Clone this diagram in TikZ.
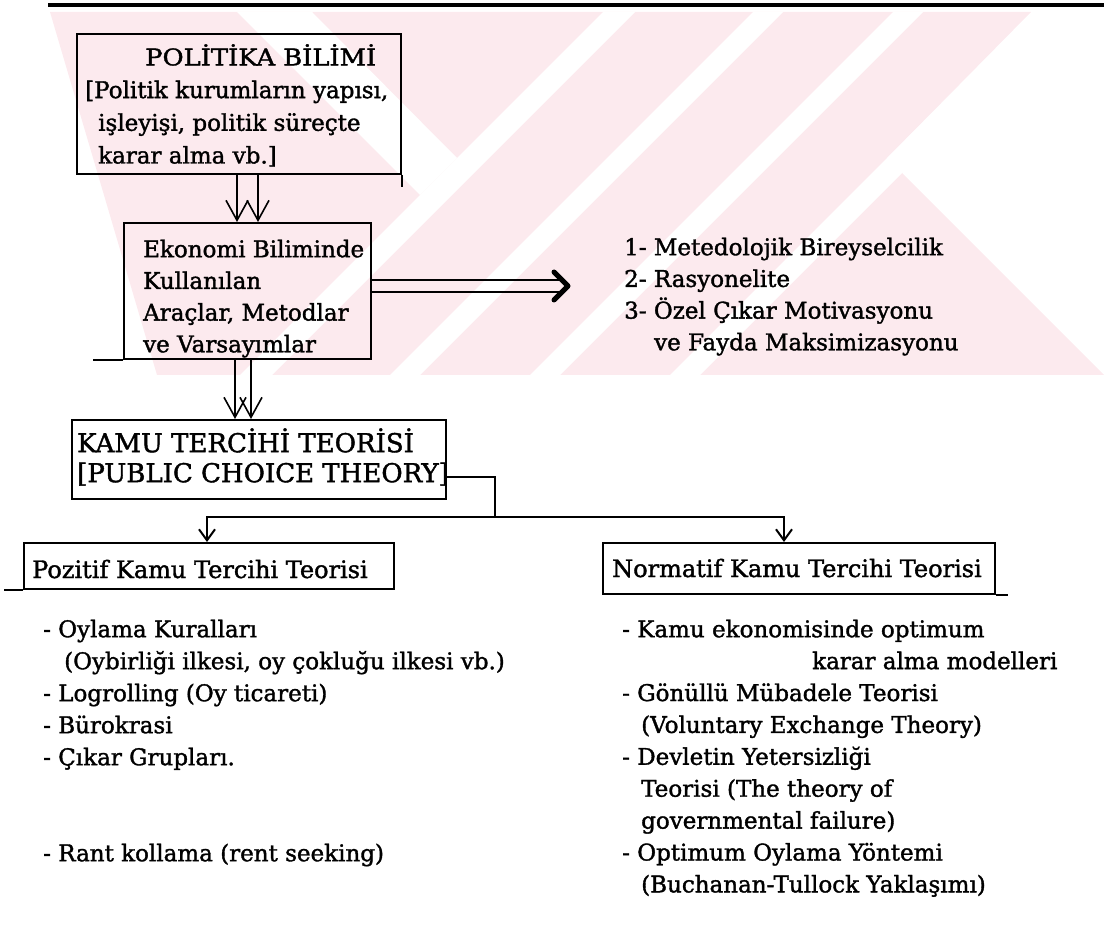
\documentclass[tikz,border=0pt]{standalone}
\usepackage{fontspec}
\usepackage{graphicx}
\setmainfont{DejaVu Serif}[FakeBold=1.5]
\usetikzlibrary{arrows.meta}
\definecolor{wm}{RGB}{252,234,238}
\newcommand{\firstln}{\rule{0pt}{20pt}}
\begin{document}
\begin{tikzpicture}[x=1pt,y=-1pt,
  box/.style={draw=black, line width=1.8pt, inner sep=0pt, anchor=north west},
  txt/.style={inner sep=0pt, anchor=north west, align=left, font=\fontsize{23}{32}\selectfont},
  one/.style={inner sep=0pt, anchor=base west, font=\fontsize{24}{30}\selectfont},
  conn/.style={line width=1.6pt},
  dar/.style={conn, -{Straight Barb[length=20pt,width=22pt]}},
  sar/.style={conn, -{Straight Barb[length=11pt,width=16pt,line width=2pt]}}
]
\useasboundingbox (0,0) rectangle (1104,941);
% watermark
\fill[wm] (50,12) -- (1031,12) -- (887,158) -- (1104,375) -- (157,375) -- cycle;
\begin{scope}
  \clip (0,12) rectangle (1104,375);
  \fill[white] (603,12) -- (635,12) -- (272,375) -- (240,375) -- cycle;
  \fill[white] (753,12) -- (783,12) -- (420,375) -- (390,375) -- cycle;
  \fill[white] (893,12) -- (923,12) -- (560,375) -- (530,375) -- cycle;
  \fill[white] (1033,12) -- (1063,12) -- (700,375) -- (670,375) -- cycle;
  \fill[white] (237,12) -- (312,12) -- (457,158) -- (420,195) -- cycle;
\end{scope}
% top rule
\draw[line width=3.5pt] (48,5) -- (1104,5);

% boxes
\node[box, minimum width=324pt, minimum height=140pt] (pb) at (76,33) {};
\node[box, minimum width=247pt, minimum height=136pt, rounded corners=0pt] (eb) at (123,222) {};
\node[box, minimum width=374pt, minimum height=79pt] (kt) at (71,419) {};
\node[box, minimum width=370pt, minimum height=46pt] (pz) at (23,542) {};
\node[box, minimum width=392pt, minimum height=51pt] (nm) at (602,542) {};

% box texts
\node[txt, font=\fontsize{23}{32.7}\selectfont] (pbt) at (85,44) {\firstln\hspace*{60pt}\scalebox{1.12}[1]{POLİTİKA BİLİMİ}\\{[}Politik kurumların yapısı,\\\hspace*{13pt}işleyişi, politik süreçte\\\hspace*{13pt}karar alma vb.{]}};
\node[txt, font=\fontsize{23}{31.7}\selectfont] (ebt) at (143,237) {\firstln Ekonomi Biliminde\\Kullanılan\\Araçlar, Metodlar\\ve Varsayımlar};
\node[txt, font=\fontsize{23}{31.7}\selectfont] (lst) at (624,235) {\firstln 1- Metedolojik Bireyselcilik\\2- Rasyonelite\\3- Özel Çıkar Motivasyonu\\\hspace*{30pt}ve Fayda Maksimizasyonu};
\node[txt, font=\fontsize{26}{30}\selectfont] (ktt) at (77,428) {\rule{0pt}{24pt}KAMU TERCİHİ TEORİSİ\\{[}PUBLIC CHOICE THEORY{]}};
\node[one] (pzt) at (32,578) {Pozitif Kamu Tercihi Teorisi};
\node[one] (nmt) at (612,577) {Normatif Kamu Tercihi Teorisi};

% lists
\node[txt] (pl) at (43,617) {\firstln - Oylama Kuralları\\\hspace*{21pt}(Oybirliği ilkesi, oy çokluğu ilkesi vb.)\\- Logrolling (Oy ticareti)\\- Bürokrasi\\- Çıkar Grupları.\\[64pt]- Rant kollama (rent seeking)};
\node[txt, font=\fontsize{23}{31.9}\selectfont] (nl) at (622,617) {\firstln - Kamu ekonomisinde optimum\\\hspace*{190pt}karar alma modelleri\\- Gönüllü Mübadele Teorisi\\\hspace*{19pt}(Voluntary Exchange Theory)\\- Devletin Yetersizliği\\\hspace*{19pt}Teorisi (The theory of\\\hspace*{19pt}governmental failure)\\- Optimum Oylama Yöntemi\\\hspace*{19pt}(Buchanan-Tullock Yaklaşımı)};

% box line extensions
\draw[line width=1.8pt] (eb.south west) -- ++(-30,0);
\draw[line width=1.8pt] (pz.south west) -- ++(-19,0);
\draw[line width=1.8pt] (nm.south east) -- ++(12,0);
\draw[line width=1.8pt] (pb.south east) -- ++(0,12);

% double arrows pb -> eb
\coordinate (a1) at (237,0);
\coordinate (a2) at (258,0);
\draw[dar] (a1 |- pb.south) -- (a1 |- eb.north);
\draw[dar] (a2 |- pb.south) -- (a2 |- eb.north);
% double arrows eb -> kt
\coordinate (b1) at (235,0);
\coordinate (b2) at (251,0);
\draw[dar] (b1 |- eb.south) -- (b1 |- kt.north);
\draw[dar] (b2 |- eb.south) -- (b2 |- kt.north);
% double arrow eb -> list
\coordinate (r1) at (562,280);
\coordinate (r2) at (562,292);
\coordinate (rtip) at (568,286);
\draw[conn] (eb.east |- r1) -- (r1);
\draw[conn] (eb.east |- r2) -- (r2);
\draw[line width=5pt, line cap=round, line join=round] (554,272) -- (rtip) -- (554,300);
% kt -> pz, nm
\coordinate (kr) at (495,477);
\coordinate (kd) at (495,517);
\coordinate (pzc) at (207,517);
\coordinate (nmc) at (784,517);
\draw[conn] (kt.east |- kr) -- (kr) -- (kd);
\draw[sar] (kd) -- (pzc) -- (pzc |- pz.north);
\draw[sar] (kd) -- (nmc) -- (nmc |- nm.north);
\end{tikzpicture}
\end{document}
